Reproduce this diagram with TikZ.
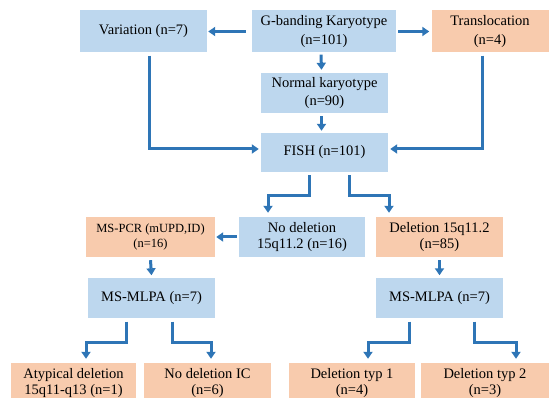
\documentclass[tikz,border=0pt]{standalone}
\usepackage{fontspec}
\setmainfont{Liberation Serif}
\usetikzlibrary{arrows.meta}

\definecolor{boxblue}{HTML}{BDD7EE}
\definecolor{boxorange}{HTML}{F8CBAD}
\definecolor{arrowblue}{HTML}{2E75B6}

\begin{document}
\begin{tikzpicture}
[
	x=1pt, y=-1pt,
	bluebox/.style={fill=boxblue,inner sep=0pt,align=center,minimum width=127pt,minimum height=40pt,font=\fontsize{14.5}{18.5}\selectfont},
	orangebox/.style={bluebox,fill=boxorange},
	tight/.style={font=\fontsize{14.5}{16.5}\selectfont},
	flow/.style={draw=arrowblue,line width=3pt,-{Triangle[length=7pt,width=9pt]}}
]

	\useasboundingbox (0,0) rectangle (552,398);

	% karyotype row
	\node[bluebox,minimum height=42pt] (var) at (143.5,31.5) {Variation (n=7)};
	\node[bluebox,minimum width=144pt,minimum height=42pt] (gband) at (324,31.5) {G-banding Karyotype\\(n=101)};
	\node[orangebox,minimum width=117pt,minimum height=42pt] (trans) at (490,31.5) {Translocation\\(n=4)};
	\node[bluebox] (normal) at (324.5,93) {Normal karyotype\\(n=90)};
	\node[bluebox,minimum height=39pt] (fish) at (324.5,152.5) {FISH (n=101)};

	% FISH results
	\node[orangebox,minimum width=129pt,font=\fontsize{12.5}{15}\selectfont] (mspcr) at (150.5,237) {MS-PCR (mUPD,ID)\\(n=16)};
	\node[bluebox,tight,minimum width=126pt] (nodel) at (302,237) {No deletion\\15q11.2 (n=16)};
	\node[orangebox,tight] (del) at (439.5,237) {Deletion 15q11.2\\(n=85)};

	\node[bluebox] (mlpaL) at (151.5,298.5) {MS-MLPA (n=7)};
	\node[bluebox] (mlpaR) at (439.5,298.5) {MS-MLPA (n=7)};

	% bottom row
	\node[orangebox,tight,minimum width=125pt] (atyp) at (73.5,383) {Atypical deletion\\15q11-q13 (n=1)};
	\node[orangebox,tight] (nodelic) at (207.5,383) {No deletion IC\\(n=6)};
	\node[orangebox,tight,minimum width=126pt] (typA) at (352,383) {Deletion typ 1\\(n=4)};
	\node[orangebox,tight,minimum width=128pt] (typB) at (485,383) {Deletion typ 2\\(n=3)};

	% arrows
	\draw[flow] ([xshift=-6pt]gband.west) -- ([xshift=1pt]var.east);
	\draw[flow] ([xshift=2pt]gband.east) -- ([xshift=-2pt]trans.west);
	\draw[flow] ([xshift=-3pt,yshift=-2pt]gband.south) -- ([xshift=-3pt,yshift=3pt]normal.north);
	\draw[flow] ([xshift=-3pt,yshift=-3pt]normal.south) -- ([xshift=-3pt,yshift=2pt]fish.north);
	\draw[flow] ([xshift=5.5pt,yshift=-3pt]var.south) |- ([xshift=-2pt,yshift=3.5pt]fish.west);
	\draw[flow] ([xshift=-8pt,yshift=-3pt]trans.south) |- ([xshift=2pt,yshift=3.5pt]fish.east);

	\draw[flow] ([xshift=-15.5pt,yshift=-3pt]fish.south) -- ++(0,20) -| ([xshift=-34pt,yshift=4pt]nodel.north);
	\draw[flow] ([xshift=24.5pt,yshift=-3pt]fish.south) -- ++(0,20) -| ([xshift=-50.5pt,yshift=4pt]del.north);
	\draw[flow] ([xshift=-2pt]nodel.west) -- ([xshift=1pt]mspcr.east);

	\draw[flow] ([yshift=-3pt]mspcr.south) -- ([yshift=3pt]mlpaL.north);
	\draw[flow] ([yshift=-3pt]del.south) -- ([yshift=3pt]mlpaR.north);

	\draw[flow] ([xshift=-25.5pt,yshift=-3pt]mlpaL.south) -- ++(0,21) -| ([xshift=12.5pt,yshift=4pt]atyp.north);
	\draw[flow] ([xshift=20.5pt,yshift=-3pt]mlpaL.south) -- ++(0,21) -| ([xshift=3.5pt,yshift=4pt]nodelic.north);
	\draw[flow] ([xshift=-30.5pt,yshift=-3pt]mlpaR.south) -- ++(0,21) -| ([xshift=16pt,yshift=4pt]typA.north);
	\draw[flow] ([xshift=34.5pt,yshift=-3pt]mlpaR.south) -- ++(0,21) -| ([xshift=31pt,yshift=4pt]typB.north);

\end{tikzpicture}
\end{document}
